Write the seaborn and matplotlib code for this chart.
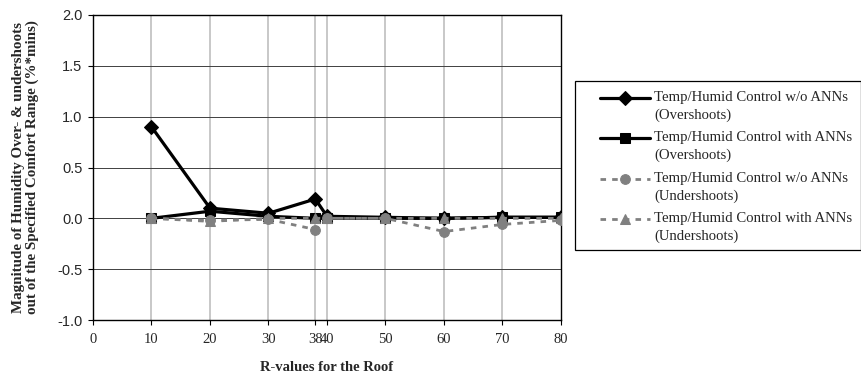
import matplotlib
matplotlib.use("Agg")
import matplotlib.pyplot as plt
from matplotlib.patches import Rectangle
from matplotlib.lines import Line2D
from matplotlib.legend_handler import HandlerLine2D
import seaborn as sns
import pandas as pd

# R-values of the roof insulation
r_values = [10, 20, 30, 38, 40, 50, 60, 70, 80]

# Humidity over/undershoot magnitudes (%*mins)
over_wo_ann = [0.90, 0.10, 0.05, 0.19, 0.02, 0.01, 0.00, 0.01, 0.01]
over_with_ann = [0.00, 0.07, 0.02, 0.00, 0.00, 0.00, 0.00, 0.01, 0.01]
under_wo_ann = [0.00, -0.02, -0.01, -0.11, 0.00, 0.00, -0.13, -0.06, -0.02]
under_with_ann = [0.00, -0.03, 0.00, 0.00, 0.00, 0.00, 0.00, 0.00, 0.00]

series_names = [
    "Temp/Humid Control w/o ANNs\n(Overshoots)",
    "Temp/Humid Control with ANNs\n(Overshoots)",
    "Temp/Humid Control w/o ANNs\n(Undershoots)",
    "Temp/Humid Control with ANNs\n(Undershoots)",
]
x_ticks = [0, 10, 20, 30, 38, 40, 50, 60, 70, 80]
y_ticks = [-1.0, -0.5, 0.0, 0.5, 1.0, 1.5, 2.0]

frames = []
for name, vals in zip(series_names, [over_wo_ann, over_with_ann, under_wo_ann, under_with_ann]):
    frames.append(pd.DataFrame({"R": r_values, "value": vals, "series": name}))
df = pd.concat(frames, ignore_index=True)


class FirstLineHandler(HandlerLine2D):
    """Legend handle aligned with the first line of a two-line label."""

    def create_artists(self, legend, orig_handle, xdescent, ydescent,
                       width, height, fontsize, trans):
        artists = super().create_artists(legend, orig_handle, xdescent, ydescent,
                                         width, height, fontsize, trans)
        for a in artists:
            a.set_ydata([y + 6.0 for y in a.get_ydata()])
        return artists


sns.set_theme(style="white")
plt.rcParams["font.family"] = ["Liberation Serif", "DejaVu Serif"]

W, H = 862, 378
fig = plt.figure(figsize=(W / 100, H / 100), dpi=100)
ax = fig.add_axes([93 / W, 1 - 320 / H, (561 - 93) / W, (320 - 15) / H])

colors = ["black", "black", "#808080", "#808080"]
markers = ["D", "s", "o", "^"]
msizes = [7, 6.5, 7, 7.5]
dashes = [None, None, (2, 2.2), (2, 2.2)]
widths = [2.3, 2.3, 2.0, 2.0]

for i, name in enumerate(series_names):
    sub = df[df["series"] == name]
    sns.lineplot(data=sub, x="R", y="value", ax=ax, color=colors[i],
                 marker=markers[i], markersize=msizes[i],
                 markeredgecolor=colors[i], linewidth=widths[i],
                 label=name, zorder=3, estimator=None)
    if dashes[i]:
        ax.lines[-1].set_dashes(dashes[i])

# grid lines
for xv in x_ticks[1:-1]:
    ax.axvline(xv, color="#c4c4c4", lw=1.3, zorder=1)
for yv in y_ticks[1:-1]:
    ax.axhline(yv, color="#404040", lw=0.7, zorder=1)

ax.set_xlim(0, 80)
ax.set_ylim(-1.0, 2.0)
ax.set_xticks(x_ticks)
ax.set_xticklabels([str(v) for v in x_ticks], fontsize=10.5,
                   family=["Liberation Serif"])
ax.set_yticks(y_ticks)
ax.set_yticklabels([f"{v:.1f}" for v in y_ticks], fontsize=10.5,
                   family=["Liberation Sans"])
ax.tick_params(axis="both", direction="out", length=3.5, width=0.8,
               color="black", bottom=True, left=True)
ax.tick_params(axis="x", pad=6)
ax.tick_params(axis="y", pad=4)

for side in ["left", "bottom", "top", "right"]:
    ax.spines[side].set_color("black")
    ax.spines[side].set_linewidth(1.0)

ax.set_xlabel("R-values for the Roof", fontsize=10.5, fontweight="bold", labelpad=11)
ax.set_ylabel("Magnitude of Humidity Over- & undershoots\nout of the Specified Comfort Range (%*mins)",
              fontsize=10.8, fontweight="bold", labelpad=13, linespacing=1.1)

leg = ax.legend(loc="upper left", bbox_to_anchor=(600 / W, 1 - 91 / H),
                bbox_transform=fig.transFigure, fontsize=10.6, frameon=False,
                handlelength=3.4, borderpad=0, borderaxespad=0,
                labelspacing=0.65, handletextpad=0.3,
                handler_map={Line2D: FirstLineHandler()})
for t in leg.get_texts():
    t.set_linespacing(1.42)

# legend frame
fig.patches.append(Rectangle((575 / W, 1 - 250 / H), (861 - 575) / W, (250 - 81) / H,
                             transform=fig.transFigure, fill=False,
                             edgecolor="black", linewidth=0.9))

fig.savefig("out.png", dpi=100)
